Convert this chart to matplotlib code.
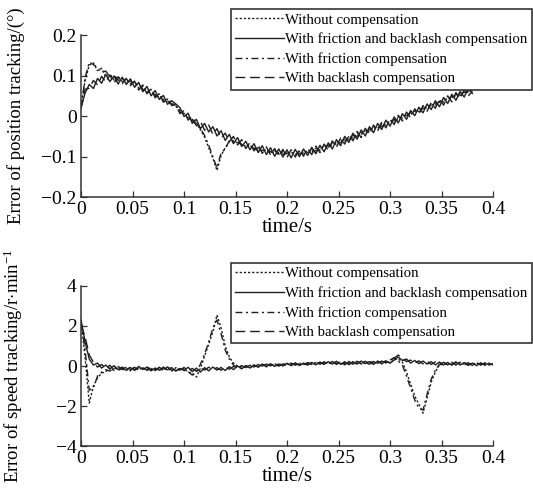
#!/usr/bin/env python3
"""Position and speed tracking error with/without friction and backlash compensation."""

import matplotlib
matplotlib.use("Agg")
import matplotlib.pyplot as plt
import numpy as np


# ---- position tracking error (deg), sampled every 0.004 s from 0 to 0.38 s
POS_BOTH = [
    0.022, 0.057, 0.078, 0.068, 0.093, 0.081, 0.103, 0.085, 0.099, 0.079,
    0.096, 0.078, 0.092, 0.071, 0.083, 0.060, 0.073, 0.050, 0.063, 0.041,
    0.051, 0.029, 0.038, 0.030, 0.021, -0.001, 0.007, -0.018, -0.008, -0.031,
    -0.018, -0.039, -0.026, -0.049, -0.036, -0.060, -0.045, -0.068, -0.053, -0.075,
    -0.062, -0.083, -0.068, -0.090, -0.073, -0.095, -0.078, -0.099, -0.081, -0.101,
    -0.083, -0.103, -0.082, -0.100, -0.081, -0.097, -0.077, -0.093, -0.072, -0.088,
    -0.066, -0.081, -0.058, -0.073, -0.050, -0.065, -0.042, -0.057, -0.034, -0.049,
    -0.026, -0.041, -0.018, -0.033, -0.010, -0.025, -0.002, -0.017, 0.006, -0.008,
    0.014, 0.001, 0.022, 0.008, 0.030, 0.016, 0.038, 0.023, 0.046, 0.031,
    0.054, 0.039, 0.061, 0.047, 0.068, 0.056,
]
POS_BACKLASH = [
    0.018, 0.066, 0.069, 0.088, 0.077, 0.098, 0.084, 0.101, 0.082, 0.097,
    0.080, 0.093, 0.075, 0.086, 0.064, 0.077, 0.055, 0.067, 0.045, 0.056,
    0.034, 0.042, 0.026, 0.028, 0.006, 0.014, -0.010, -0.001, -0.024, -0.013,
    -0.035, -0.022, -0.045, -0.031, -0.054, -0.042, -0.063, -0.050, -0.071, -0.058,
    -0.080, -0.065, -0.086, -0.071, -0.092, -0.076, -0.096, -0.080, -0.099, -0.082,
    -0.102, -0.083, -0.101, -0.083, -0.099, -0.079, -0.095, -0.074, -0.090, -0.069,
    -0.084, -0.061, -0.077, -0.054, -0.069, -0.046, -0.061, -0.038, -0.053, -0.030,
    -0.045, -0.022, -0.037, -0.014, -0.029, -0.006, -0.021, 0.002, -0.012, 0.010,
    -0.004, 0.018, 0.004, 0.026, 0.012, 0.034, 0.019, 0.042, 0.027, 0.050,
    0.035, 0.058, 0.043, 0.065, 0.050, 0.061,
]
POS_NONE = [
    0.025, 0.088, 0.126, 0.131, 0.112, 0.118, 0.098, 0.104, 0.089, 0.098,
    0.085, 0.092, 0.079, 0.086, 0.069, 0.073, 0.059, 0.066, 0.049, 0.055,
    0.038, 0.042, 0.033, 0.024, 0.014, 0.004, -0.002, -0.012, -0.018, -0.034,
    -0.052, -0.078, -0.104, -0.134, -0.097, -0.078, -0.063, -0.061, -0.066, -0.068,
    -0.075, -0.071, -0.082, -0.078, -0.087, -0.082, -0.090, -0.086, -0.094, -0.088,
    -0.096, -0.089, -0.095, -0.087, -0.093, -0.084, -0.089, -0.079, -0.084, -0.073,
    -0.078, -0.066, -0.070, -0.059, -0.062, -0.051, -0.054, -0.043, -0.046, -0.035,
    -0.038, -0.027, -0.030, -0.019, -0.022, -0.011, -0.014, -0.003, -0.005, 0.005,
    0.003, 0.013, 0.011, 0.021, 0.019, 0.029, 0.027, 0.037, 0.035, 0.045,
    0.043, 0.053, 0.051, 0.060, 0.058, 0.064,
]
POS_FRICTION = [
    0.020, 0.095, 0.133, 0.127, 0.120, 0.108, 0.111, 0.097, 0.101, 0.088,
    0.093, 0.083, 0.086, 0.076, 0.078, 0.066, 0.063, 0.056, 0.053, 0.045,
    0.041, 0.037, 0.030, 0.027, 0.010, 0.007, -0.006, -0.008, -0.022, -0.030,
    -0.048, -0.072, -0.100, -0.128, -0.090, -0.082, -0.060, -0.064, -0.063, -0.071,
    -0.072, -0.077, -0.079, -0.084, -0.084, -0.089, -0.087, -0.092, -0.090, -0.094,
    -0.091, -0.095, -0.090, -0.093, -0.088, -0.090, -0.083, -0.086, -0.078, -0.080,
    -0.072, -0.073, -0.064, -0.066, -0.056, -0.058, -0.048, -0.050, -0.040, -0.042,
    -0.032, -0.034, -0.024, -0.026, -0.016, -0.018, -0.008, -0.010, 0.000, 0.001,
    0.008, 0.010, 0.016, 0.018, 0.024, 0.026, 0.032, 0.034, 0.040, 0.042,
    0.048, 0.050, 0.056, 0.058, 0.062, 0.065,
]
POS_T = np.linspace(0.0, 0.38, len(POS_BOTH))

# ---- speed tracking error (r/min), sampled every 0.004 s from 0 to 0.4 s
SPD_BOTH = [
    2.30, 1.20, 0.35, 0.05, 0.15, -0.10, 0.05, -0.15, 0.02, -0.18,
    -0.05, -0.22, -0.08, -0.20, -0.02, -0.17, -0.06, -0.24, -0.10, -0.21,
    -0.05, -0.19, -0.08, -0.25, -0.12, -0.22, -0.06, -0.28, -0.10, -0.30,
    -0.08, -0.24, -0.05, -0.20, -0.07, -0.22, -0.03, -0.18, 0.00, -0.14,
    0.03, -0.10, 0.06, -0.06, 0.10, -0.04, 0.12, -0.02, 0.10, 0.00,
    0.14, 0.02, 0.16, 0.03, 0.12, 0.05, 0.18, 0.06, 0.20, 0.08,
    0.22, 0.10, 0.24, 0.09, 0.21, 0.07, 0.19, 0.10, 0.25, 0.12,
    0.22, 0.08, 0.24, 0.11, 0.26, 0.14, 0.30, 0.45, 0.28, 0.35,
    0.15, 0.28, 0.12, 0.25, 0.10, 0.22, 0.06, 0.20, 0.05, 0.18,
    0.04, 0.20, 0.06, 0.17, 0.03, 0.15, 0.02, 0.16, 0.04, 0.14,
    0.05,
]
SPD_BACKLASH = [
    2.05, 1.45, 0.55, 0.20, -0.05, 0.08, -0.12, 0.04, -0.20, -0.02,
    -0.16, -0.04, -0.19, -0.06, -0.22, -0.09, -0.20, -0.05, -0.23, -0.07,
    -0.18, -0.04, -0.22, -0.09, -0.20, -0.07, -0.24, -0.12, -0.26, -0.10,
    -0.20, -0.06, -0.18, -0.08, -0.21, -0.05, -0.16, -0.02, -0.12, 0.02,
    -0.08, 0.05, -0.05, 0.08, -0.02, 0.10, 0.01, 0.12, -0.01, 0.11,
    0.03, 0.15, 0.04, 0.13, 0.06, 0.16, 0.08, 0.19, 0.09, 0.21,
    0.11, 0.23, 0.08, 0.20, 0.06, 0.22, 0.11, 0.24, 0.10, 0.20,
    0.09, 0.23, 0.12, 0.25, 0.15, 0.28, 0.40, 0.55, 0.38, 0.22,
    0.30, 0.14, 0.26, 0.11, 0.24, 0.08, 0.21, 0.07, 0.19, 0.05,
    0.17, 0.07, 0.19, 0.04, 0.16, 0.03, 0.17, 0.05, 0.15, 0.06,
    0.10,
]
SPD_NONE = [
    2.30, 0.40, -1.85, -1.00, -0.60, -0.35, -0.28, -0.10, -0.22, -0.05,
    -0.20, -0.10, -0.24, -0.06, -0.18, -0.08, -0.22, -0.12, -0.20, -0.06,
    -0.22, -0.10, -0.26, -0.08, -0.20, -0.12, -0.30, -0.36, -0.55, -0.10,
    0.50, 1.10, 1.70, 2.55, 1.90, 1.00, 0.45, 0.15, 0.00, -0.12,
    0.02, -0.08, 0.04, -0.04, 0.08, -0.02, 0.10, 0.00, 0.12, 0.02,
    0.11, 0.04, 0.14, 0.05, 0.15, 0.07, 0.16, 0.09, 0.18, 0.10,
    0.20, 0.12, 0.21, 0.08, 0.19, 0.10, 0.22, 0.12, 0.23, 0.11,
    0.24, 0.13, 0.25, 0.12, 0.27, 0.16, 0.32, 0.35, 0.20, -0.30,
    -0.90, -1.50, -1.90, -2.35, -1.60, -0.80, -0.30, 0.05, 0.18, 0.06,
    0.19, 0.05, 0.18, 0.08, 0.17, 0.04, 0.15, 0.06, 0.16, 0.05,
    0.12,
]
SPD_FRICTION = [
    2.20, 0.80, -1.20, -1.10, -0.50, -0.30, -0.18, -0.25, -0.08, -0.22,
    -0.12, -0.18, -0.05, -0.21, -0.10, -0.16, -0.04, -0.20, -0.09, -0.23,
    -0.11, -0.19, -0.07, -0.24, -0.14, -0.22, -0.28, -0.45, -0.30, 0.10,
    0.60, 1.20, 1.90, 2.30, 1.60, 0.80, 0.35, 0.05, -0.10, 0.02,
    -0.06, 0.04, -0.02, 0.06, 0.00, 0.09, 0.02, 0.11, 0.03, 0.13,
    0.06, 0.12, 0.08, 0.15, 0.06, 0.17, 0.10, 0.18, 0.12, 0.19,
    0.09, 0.22, 0.13, 0.20, 0.11, 0.23, 0.09, 0.21, 0.13, 0.24,
    0.10, 0.26, 0.14, 0.24, 0.18, 0.30, 0.42, 0.25, 0.05, -0.50,
    -1.10, -1.70, -2.10, -2.20, -1.40, -0.65, -0.20, 0.10, 0.04, 0.17,
    0.08, 0.20, 0.06, 0.16, 0.09, 0.18, 0.05, 0.14, 0.07, 0.13,
    0.08,
]
SPD_T = np.linspace(0.0, 0.4, len(SPD_BOTH))

LABELS = [
    "Without compensation",
    "With friction and backlash compensation",
    "With friction compensation",
    "With backlash compensation",
]
STYLES = [(0, (1.6, 1.4)), "-", (0, (5.0, 2.5, 1.5, 2.5)), (0, (7.0, 3.5))]

X_TICKS = [0, 0.05, 0.1, 0.15, 0.2, 0.25, 0.3, 0.35, 0.4]
X_TICKLABELS = ["0", "0.05", "0.1", "0.15", "0.2", "0.25", "0.3", "0.35", "0.4"]
POS_YTICKS = [-0.2, -0.1, 0, 0.1, 0.2]
POS_YTICKLABELS = ["\u22120.2", "\u22120.1", "0", "0.1", "0.2"]
SPD_YTICKS = [-4, -2, 0, 2, 4]
SPD_YTICKLABELS = ["\u22124", "\u22122", "0", "2", "4"]

LINE_COLOR = "#1f1f1f"


def draw_panel(ax, t, series, yticks, yticklabels, ylabel, legend_anchor, fig):
    order = [1, 3, 2, 0]  # solid/dashed under, deviating ones on top
    handles = [None] * 4
    for idx in order:
        (ln,) = ax.plot(t, series[idx], color=LINE_COLOR, lw=1.0, linestyle=STYLES[idx], label=LABELS[idx])
        handles[idx] = ln

    ax.set_xlim(0, 0.4)
    ax.set_ylim(yticks[0], yticks[-1])
    ax.set_xticks(X_TICKS)
    ax.set_xticklabels(X_TICKLABELS)
    ax.set_yticks(yticks)
    ax.set_yticklabels(yticklabels)
    ax.tick_params(direction="in", length=4, width=0.9, labelsize=14, pad=3, color="#333333")
    for side in ("top", "right"):
        ax.spines[side].set_visible(False)
    for side in ("left", "bottom"):
        ax.spines[side].set_linewidth(1.1)
        ax.spines[side].set_color("#333333")

    ax.set_xlabel("time/s", fontsize=15, labelpad=0)
    ax.set_ylabel(ylabel, fontsize=13.5)
    ax.yaxis.set_label_coords(-0.135, 0.5)

    leg = fig.legend(
        handles,
        LABELS,
        loc="upper right",
        bbox_to_anchor=legend_anchor,
        bbox_transform=fig.transFigure,
        fontsize=10.6,
        handlelength=3.3,
        handletextpad=0.1,
        labelspacing=0.4,
        borderpad=0.3,
        borderaxespad=0.0,
        fancybox=False,
        framealpha=1.0,
    )
    leg.get_frame().set_edgecolor("#333333")
    leg.get_frame().set_linewidth(1.2)


def main():
    plt.rcParams.update(
        {
            "font.family": ["Liberation Serif", "DejaVu Serif"],
            "mathtext.fontset": "custom",
            "mathtext.rm": "Liberation Serif",
            "mathtext.it": "Liberation Serif:italic",
            "axes.unicode_minus": True,
        }
    )

    fig = plt.figure(figsize=(5.33, 4.93), dpi=100)
    ax_pos = fig.add_axes([0.152, 0.600, 0.773, 0.329])
    ax_spd = fig.add_axes([0.152, 0.095, 0.773, 0.325])

    draw_panel(
        ax_pos, POS_T, [POS_NONE, POS_BOTH, POS_FRICTION, POS_BACKLASH],
        POS_YTICKS, POS_YTICKLABELS, "Error of position tracking/(\u00b0)", (0.998, 0.982), fig,
    )
    draw_panel(
        ax_spd, SPD_T, [SPD_NONE, SPD_BOTH, SPD_FRICTION, SPD_BACKLASH],
        SPD_YTICKS, SPD_YTICKLABELS, r"Error of speed tracking/r$\cdot$min$^{-1}$", (0.998, 0.467), fig,
    )

    fig.savefig("out.png", dpi=100)
    plt.close(fig)


if __name__ == "__main__":
    main()
